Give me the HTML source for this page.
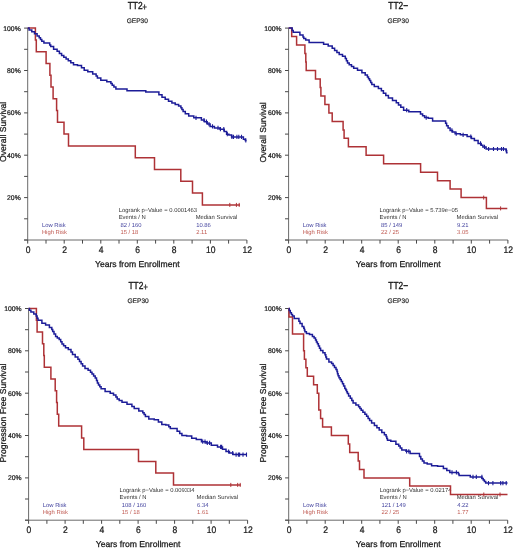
<!DOCTYPE html><html><head><meta charset="utf-8"><style>html,body{margin:0;padding:0;background:#fff;}svg{display:block;filter:blur(0.3px);}text{text-rendering:geometricPrecision;font-family:"Liberation Sans",sans-serif;}</style></head><body>
<svg width="520" height="556" viewBox="0 0 520 556">
<rect width="520" height="556" fill="#fff"/>
<g stroke="#6a6a6a" stroke-width="1" fill="none">
<path d="M 27.7 28.1 V 240.0 M 24.1 240.0 H 246.9"/>
<path d="M 27.7 240.0 V 243.6 M 46.0 240.0 V 243.6 M 64.2 240.0 V 243.6 M 82.5 240.0 V 243.6 M 100.8 240.0 V 243.6 M 119.0 240.0 V 243.6 M 137.3 240.0 V 243.6 M 155.6 240.0 V 243.6 M 173.8 240.0 V 243.6 M 192.1 240.0 V 243.6 M 210.4 240.0 V 243.6 M 228.6 240.0 V 243.6 M 246.9 240.0 V 243.6 M 24.1 28.1 H 27.7 M 24.1 49.3 H 27.7 M 24.1 70.5 H 27.7 M 24.1 91.7 H 27.7 M 24.1 112.9 H 27.7 M 24.1 134.1 H 27.7 M 24.1 155.2 H 27.7 M 24.1 176.4 H 27.7 M 24.1 197.6 H 27.7 M 24.1 218.8 H 27.7 M 24.1 240.0 H 27.7 " stroke="#484848"/>
</g>
<text x="20.7" y="30.5" font-size="6.8" fill="#1a1a1a" text-anchor="end" stroke="#1a1a1a" stroke-width="0.22">100%</text>
<text x="20.7" y="72.9" font-size="6.8" fill="#1a1a1a" text-anchor="end" stroke="#1a1a1a" stroke-width="0.22">80%</text>
<text x="20.7" y="115.3" font-size="6.8" fill="#1a1a1a" text-anchor="end" stroke="#1a1a1a" stroke-width="0.22">60%</text>
<text x="20.7" y="157.6" font-size="6.8" fill="#1a1a1a" text-anchor="end" stroke="#1a1a1a" stroke-width="0.22">40%</text>
<text x="20.7" y="200.0" font-size="6.8" fill="#1a1a1a" text-anchor="end" stroke="#1a1a1a" stroke-width="0.22">20%</text>
<text transform="translate(28.0 252.6) scale(1 1.12)" font-size="8.5" fill="#1a1a1a" text-anchor="middle" stroke="#1a1a1a" stroke-width="0.22">0</text>
<text transform="translate(64.5 252.6) scale(1 1.12)" font-size="8.5" fill="#1a1a1a" text-anchor="middle" stroke="#1a1a1a" stroke-width="0.22">2</text>
<text transform="translate(101.1 252.6) scale(1 1.12)" font-size="8.5" fill="#1a1a1a" text-anchor="middle" stroke="#1a1a1a" stroke-width="0.22">4</text>
<text transform="translate(137.6 252.6) scale(1 1.12)" font-size="8.5" fill="#1a1a1a" text-anchor="middle" stroke="#1a1a1a" stroke-width="0.22">6</text>
<text transform="translate(174.1 252.6) scale(1 1.12)" font-size="8.5" fill="#1a1a1a" text-anchor="middle" stroke="#1a1a1a" stroke-width="0.22">8</text>
<text transform="translate(210.7 252.6) scale(1 1.12)" font-size="8.5" fill="#1a1a1a" text-anchor="middle" stroke="#1a1a1a" stroke-width="0.22">10</text>
<text transform="translate(247.2 252.6) scale(1 1.12)" font-size="8.5" fill="#1a1a1a" text-anchor="middle" stroke="#1a1a1a" stroke-width="0.22">12</text>
<text x="137.3" y="267.2" font-size="8.6" fill="#1a1a1a" text-anchor="middle" stroke="#1a1a1a" stroke-width="0.26">Years from Enrollment</text>
<text transform="translate(5.6 131.8) rotate(-90)" font-size="8.6" fill="#1a1a1a" text-anchor="middle" stroke="#1a1a1a" stroke-width="0.26">Overall Survival</text>
<text transform="translate(137.3 8.9) scale(1 1.22)" font-size="8.4" fill="#1a1a1a" text-anchor="middle" stroke="#1a1a1a" stroke-width="0.30">TT2<tspan font-size="7.4" dy="0.6">+</tspan></text>
<text x="137.3" y="22.5" font-size="6.6" fill="#2e2e2e" text-anchor="middle" stroke="#2e2e2e" stroke-width="0.22">GEP30</text>
<text x="41.9" y="226.9" font-size="5.85" fill="#42429e" stroke="#42429e" stroke-width="0.00">Low Risk</text>
<text x="41.9" y="233.5" font-size="5.85" fill="#c05a52" stroke="#c05a52" stroke-width="0.00">High Risk</text>
<text x="118.7" y="212.0" font-size="5.85" fill="#303030" stroke="#303030" stroke-width="0.00">Logrank p−Value = 0.0001463</text>
<text x="118.7" y="219.0" font-size="5.85" fill="#303030" stroke="#303030" stroke-width="0.00">Events / N</text>
<text x="195.7" y="219.0" font-size="5.85" fill="#303030" stroke="#303030" stroke-width="0.00">Median Survival</text>
<text x="120.5" y="226.7" font-size="5.85" fill="#42429e" stroke="#42429e" stroke-width="0.00">82 / 160</text>
<text x="120.5" y="234.0" font-size="5.85" fill="#c05a52" stroke="#c05a52" stroke-width="0.00">15 / 18</text>
<text x="196.2" y="226.7" font-size="5.85" fill="#42429e" stroke="#42429e" stroke-width="0.00">10.86</text>
<text x="196.2" y="234.0" font-size="5.85" fill="#c05a52" stroke="#c05a52" stroke-width="0.00">2.11</text>
<path d="M 27.7 28.1 H 35.4 V 40.0 H 36.3 V 51.7 H 46.1 V 63.4 H 49.9 V 75.2 H 51.0 V 87.0 H 53.1 V 98.8 H 56.6 V 110.6 H 57.5 V 122.3 H 64.0 V 134.1 H 68.5 V 145.9 H 135.3 V 157.7 H 154.5 V 169.5 H 180.8 V 181.3 H 192.5 V 193.1 H 202.4 V 204.9 H 240.0" fill="none" stroke="#ae3236" stroke-width="1.5" stroke-linejoin="miter"/>
<path d="M 229.8 202.9 v 4.0 M 236.4 202.9 v 4.0 M 239.2 202.9 v 4.0 " stroke="#ae3236" stroke-width="1.0" fill="none"/>
<path d="M 27.7 28.1 H 29.1 V 29.9 H 31.8 V 31.8 H 33.1 H 34.5 V 33.8 H 37.1 V 35.9 H 38.5 H 39.2 V 37.7 H 40.5 V 39.5 H 41.8 V 41.3 H 42.5 H 43.9 V 43.0 H 45.2 H 49.2 H 49.7 V 45.0 H 50.7 V 46.6 H 51.2 H 53.6 V 49.3 H 56.0 H 57.1 V 51.3 H 59.4 V 53.4 H 61.6 V 55.4 H 62.7 H 63.8 V 57.2 H 66.1 V 59.0 H 68.3 V 60.8 H 69.4 H 70.8 V 62.8 H 73.5 V 64.8 H 74.8 H 77.5 V 65.5 H 80.2 H 81.5 V 67.8 H 84.2 V 70.2 H 85.6 H 87.8 V 71.8 H 90.0 H 92.7 V 73.9 H 95.4 H 96.1 V 75.9 H 97.4 V 77.9 H 98.1 H 100.8 V 80.3 H 103.5 H 106.8 V 81.7 H 110.2 H 110.9 V 83.5 H 112.2 V 85.3 H 112.9 H 113.9 V 87.1 H 115.9 V 88.9 H 116.9 H 126.3 H 127.0 V 90.7 H 127.7 H 145.2 H 145.8 V 92.0 H 146.5 H 157.4 H 158.9 V 94.7 H 162.0 V 97.2 H 163.5 H 165.2 V 99.2 H 168.5 V 101.3 H 170.2 H 171.9 V 102.9 H 175.2 V 104.4 H 176.9 H 178.6 V 106.0 H 180.3 H 180.9 V 107.8 H 181.9 V 109.6 H 183.1 V 111.4 H 183.6 H 185.3 V 113.8 H 188.7 V 116.1 H 190.4 H 193.8 V 117.8 H 197.1 H 200.0 H 201.4 V 120.0 H 204.4 V 121.7 H 205.8 H 207.2 V 124.1 H 210.1 V 126.4 H 211.5 H 214.4 V 127.9 H 217.3 H 220.0 V 129.2 H 222.7 H 224.2 V 131.6 H 225.8 H 226.6 V 134.2 H 227.3 H 228.9 V 135.0 H 230.4 H 231.6 V 136.9 H 232.7 H 242.7 H 243.4 V 139.2 H 244.2 H 245.3 V 140.4 H 246.5" fill="none" stroke="#1c1c98" stroke-width="1.5" stroke-linejoin="miter"/>
<path d="M 196.0 115.7 v 4.2 M 204.0 117.9 v 4.2 M 206.5 119.6 v 4.2 M 209.0 122.0 v 4.2 M 212.5 124.3 v 4.2 M 218.0 125.8 v 4.2 M 220.4 127.1 v 4.2 M 223.8 127.1 v 4.2 M 227.3 132.1 v 4.2 M 231.9 134.8 v 4.2 M 233.5 134.8 v 4.2 M 236.9 134.8 v 4.2 M 238.8 134.8 v 4.2 M 241.5 134.8 v 4.2 M 245.8 138.3 v 4.2 " stroke="#1c1c98" stroke-width="1.1" fill="none"/>
<g stroke="#6a6a6a" stroke-width="1" fill="none">
<path d="M 288.6 28.1 V 240.0 M 285.0 240.0 H 507.9"/>
<path d="M 288.6 240.0 V 243.6 M 306.9 240.0 V 243.6 M 325.2 240.0 V 243.6 M 343.4 240.0 V 243.6 M 361.7 240.0 V 243.6 M 380.0 240.0 V 243.6 M 398.2 240.0 V 243.6 M 416.5 240.0 V 243.6 M 434.8 240.0 V 243.6 M 453.1 240.0 V 243.6 M 471.3 240.0 V 243.6 M 489.6 240.0 V 243.6 M 507.9 240.0 V 243.6 M 285.0 28.1 H 288.6 M 285.0 49.3 H 288.6 M 285.0 70.5 H 288.6 M 285.0 91.7 H 288.6 M 285.0 112.9 H 288.6 M 285.0 134.1 H 288.6 M 285.0 155.2 H 288.6 M 285.0 176.4 H 288.6 M 285.0 197.6 H 288.6 M 285.0 218.8 H 288.6 M 285.0 240.0 H 288.6 " stroke="#484848"/>
</g>
<text x="281.6" y="30.5" font-size="6.8" fill="#1a1a1a" text-anchor="end" stroke="#1a1a1a" stroke-width="0.22">100%</text>
<text x="281.6" y="72.9" font-size="6.8" fill="#1a1a1a" text-anchor="end" stroke="#1a1a1a" stroke-width="0.22">80%</text>
<text x="281.6" y="115.3" font-size="6.8" fill="#1a1a1a" text-anchor="end" stroke="#1a1a1a" stroke-width="0.22">60%</text>
<text x="281.6" y="157.6" font-size="6.8" fill="#1a1a1a" text-anchor="end" stroke="#1a1a1a" stroke-width="0.22">40%</text>
<text x="281.6" y="200.0" font-size="6.8" fill="#1a1a1a" text-anchor="end" stroke="#1a1a1a" stroke-width="0.22">20%</text>
<text transform="translate(288.9 252.6) scale(1 1.12)" font-size="8.5" fill="#1a1a1a" text-anchor="middle" stroke="#1a1a1a" stroke-width="0.22">0</text>
<text transform="translate(325.5 252.6) scale(1 1.12)" font-size="8.5" fill="#1a1a1a" text-anchor="middle" stroke="#1a1a1a" stroke-width="0.22">2</text>
<text transform="translate(362.0 252.6) scale(1 1.12)" font-size="8.5" fill="#1a1a1a" text-anchor="middle" stroke="#1a1a1a" stroke-width="0.22">4</text>
<text transform="translate(398.6 252.6) scale(1 1.12)" font-size="8.5" fill="#1a1a1a" text-anchor="middle" stroke="#1a1a1a" stroke-width="0.22">6</text>
<text transform="translate(435.1 252.6) scale(1 1.12)" font-size="8.5" fill="#1a1a1a" text-anchor="middle" stroke="#1a1a1a" stroke-width="0.22">8</text>
<text transform="translate(471.6 252.6) scale(1 1.12)" font-size="8.5" fill="#1a1a1a" text-anchor="middle" stroke="#1a1a1a" stroke-width="0.22">10</text>
<text transform="translate(508.2 252.6) scale(1 1.12)" font-size="8.5" fill="#1a1a1a" text-anchor="middle" stroke="#1a1a1a" stroke-width="0.22">12</text>
<text x="398.2" y="267.2" font-size="8.6" fill="#1a1a1a" text-anchor="middle" stroke="#1a1a1a" stroke-width="0.26">Years from Enrollment</text>
<text transform="translate(266.1 132.3) rotate(-90)" font-size="8.6" fill="#1a1a1a" text-anchor="middle" stroke="#1a1a1a" stroke-width="0.26">Overall Survival</text>
<text transform="translate(398.2 8.9) scale(1 1.22)" font-size="8.4" fill="#1a1a1a" text-anchor="middle" stroke="#1a1a1a" stroke-width="0.30">TT2−</text>
<text x="398.2" y="22.5" font-size="6.6" fill="#2e2e2e" text-anchor="middle" stroke="#2e2e2e" stroke-width="0.22">GEP30</text>
<text x="302.8" y="226.9" font-size="5.85" fill="#42429e" stroke="#42429e" stroke-width="0.00">Low Risk</text>
<text x="302.8" y="233.5" font-size="5.85" fill="#c05a52" stroke="#c05a52" stroke-width="0.00">High Risk</text>
<text x="379.6" y="212.0" font-size="5.85" fill="#303030" stroke="#303030" stroke-width="0.00">Logrank p−Value = 5.739e−05</text>
<text x="379.6" y="219.0" font-size="5.85" fill="#303030" stroke="#303030" stroke-width="0.00">Events / N</text>
<text x="456.6" y="219.0" font-size="5.85" fill="#303030" stroke="#303030" stroke-width="0.00">Median Survival</text>
<text x="381.1" y="226.7" font-size="5.85" fill="#42429e" stroke="#42429e" stroke-width="0.00">85 / 149</text>
<text x="381.1" y="234.0" font-size="5.85" fill="#c05a52" stroke="#c05a52" stroke-width="0.00">22 / 25</text>
<text x="457.1" y="226.7" font-size="5.85" fill="#42429e" stroke="#42429e" stroke-width="0.00">9.21</text>
<text x="457.1" y="234.0" font-size="5.85" fill="#c05a52" stroke="#c05a52" stroke-width="0.00">3.05</text>
<path d="M 288.6 28.1 H 291.7 V 36.6 H 296.6 V 45.1 H 304.9 V 53.5 H 305.8 V 62.0 H 306.2 V 70.5 H 315.5 V 79.0 H 320.2 V 87.5 H 320.9 V 95.9 H 324.9 V 104.4 H 328.9 V 112.9 H 332.2 V 121.4 H 343.1 V 129.9 H 344.1 V 138.3 H 348.4 V 146.8 H 366.1 V 155.3 H 383.6 V 163.8 H 420.6 V 172.3 H 437.5 V 180.7 H 450.1 V 189.0 H 461.1 V 197.6 H 486.4 V 208.4 H 507.3" fill="none" stroke="#ae3236" stroke-width="1.5" stroke-linejoin="miter"/>
<path d="M 483.7 195.6 v 4.0 M 500.6 206.4 v 4.0 " stroke="#ae3236" stroke-width="1.0" fill="none"/>
<path d="M 288.6 28.1 H 291.6 H 292.2 V 30.4 H 293.2 V 32.3 H 293.8 H 299.1 H 299.9 V 35.1 H 300.6 H 302.6 H 303.0 V 36.9 H 303.8 V 38.6 H 304.2 H 305.7 V 40.1 H 307.2 H 309.1 V 42.5 H 311.0 H 321.9 H 323.6 V 44.2 H 325.4 H 328.2 V 46.0 H 331.1 H 332.2 V 48.3 H 334.6 V 50.6 H 335.7 H 336.9 V 52.6 H 339.2 V 54.6 H 340.4 H 342.5 V 56.2 H 344.7 H 345.3 V 58.4 H 346.4 V 60.7 H 347.5 V 62.9 H 348.1 H 349.2 V 64.7 H 351.5 V 66.5 H 353.7 V 68.3 H 354.8 H 357.5 V 70.3 H 360.2 H 361.9 V 72.7 H 365.2 V 75.0 H 366.9 H 367.4 V 76.9 H 368.5 V 78.8 H 369.6 V 80.6 H 370.7 V 82.5 H 371.8 V 84.4 H 372.3 H 374.3 V 86.5 H 378.4 V 88.5 H 380.4 H 381.4 V 90.8 H 383.4 V 93.2 H 384.4 H 385.8 V 95.6 H 388.4 V 97.9 H 389.8 H 392.5 V 100.6 H 395.2 H 396.3 V 102.8 H 398.5 V 105.1 H 400.8 V 107.3 H 401.9 H 403.6 V 110.2 H 405.4 H 408.8 V 111.8 H 412.1 H 419.5 H 420.5 V 114.0 H 422.6 V 115.8 H 424.6 V 117.6 H 425.6 H 428.3 V 118.3 H 431.0 H 432.6 V 121.0 H 434.3 H 445.1 H 445.6 V 123.3 H 446.6 V 125.7 H 447.1 H 448.1 V 128.1 H 450.1 V 130.4 H 451.1 H 452.5 V 132.1 H 455.1 V 133.7 H 456.5 H 460.4 V 134.8 H 464.2 H 467.1 V 136.5 H 470.0 H 471.4 V 138.6 H 474.4 V 140.6 H 475.8 H 478.1 V 143.4 H 480.4 H 481.2 V 145.2 H 482.9 V 146.9 H 483.8 H 486.1 V 149.0 H 488.4 H 505.7 H 506.0 V 150.8 H 506.6 V 152.7 H 506.9 H 507.6" fill="none" stroke="#1c1c98" stroke-width="1.5" stroke-linejoin="miter"/>
<path d="M 406.7 108.1 v 4.2 M 426.2 115.5 v 4.2 M 451.9 128.3 v 4.2 M 456.2 131.6 v 4.2 M 463.1 132.7 v 4.2 M 470.8 134.4 v 4.2 M 480.5 141.3 v 4.2 M 484.5 144.8 v 4.2 M 488.6 146.9 v 4.2 M 493.5 146.9 v 4.2 M 497.5 146.9 v 4.2 M 501.5 146.9 v 4.2 M 503.5 146.9 v 4.2 M 506.5 148.8 v 4.2 " stroke="#1c1c98" stroke-width="1.1" fill="none"/>
<g stroke="#6a6a6a" stroke-width="1" fill="none">
<path d="M 28.6 308.5 V 520.2 M 25.0 520.2 H 247.6"/>
<path d="M 28.6 520.2 V 523.8 M 46.9 520.2 V 523.8 M 65.1 520.2 V 523.8 M 83.3 520.2 V 523.8 M 101.6 520.2 V 523.8 M 119.8 520.2 V 523.8 M 138.1 520.2 V 523.8 M 156.3 520.2 V 523.8 M 174.6 520.2 V 523.8 M 192.8 520.2 V 523.8 M 211.1 520.2 V 523.8 M 229.3 520.2 V 523.8 M 247.6 520.2 V 523.8 M 25.0 308.5 H 28.6 M 25.0 329.7 H 28.6 M 25.0 350.8 H 28.6 M 25.0 372.0 H 28.6 M 25.0 393.2 H 28.6 M 25.0 414.4 H 28.6 M 25.0 435.5 H 28.6 M 25.0 456.7 H 28.6 M 25.0 477.9 H 28.6 M 25.0 499.0 H 28.6 M 25.0 520.2 H 28.6 " stroke="#484848"/>
</g>
<text x="21.6" y="310.9" font-size="6.8" fill="#1a1a1a" text-anchor="end" stroke="#1a1a1a" stroke-width="0.22">100%</text>
<text x="21.6" y="353.2" font-size="6.8" fill="#1a1a1a" text-anchor="end" stroke="#1a1a1a" stroke-width="0.22">80%</text>
<text x="21.6" y="395.6" font-size="6.8" fill="#1a1a1a" text-anchor="end" stroke="#1a1a1a" stroke-width="0.22">60%</text>
<text x="21.6" y="437.9" font-size="6.8" fill="#1a1a1a" text-anchor="end" stroke="#1a1a1a" stroke-width="0.22">40%</text>
<text x="21.6" y="480.3" font-size="6.8" fill="#1a1a1a" text-anchor="end" stroke="#1a1a1a" stroke-width="0.22">20%</text>
<text transform="translate(28.9 532.8) scale(1 1.12)" font-size="8.5" fill="#1a1a1a" text-anchor="middle" stroke="#1a1a1a" stroke-width="0.22">0</text>
<text transform="translate(65.4 532.8) scale(1 1.12)" font-size="8.5" fill="#1a1a1a" text-anchor="middle" stroke="#1a1a1a" stroke-width="0.22">2</text>
<text transform="translate(101.9 532.8) scale(1 1.12)" font-size="8.5" fill="#1a1a1a" text-anchor="middle" stroke="#1a1a1a" stroke-width="0.22">4</text>
<text transform="translate(138.4 532.8) scale(1 1.12)" font-size="8.5" fill="#1a1a1a" text-anchor="middle" stroke="#1a1a1a" stroke-width="0.22">6</text>
<text transform="translate(174.9 532.8) scale(1 1.12)" font-size="8.5" fill="#1a1a1a" text-anchor="middle" stroke="#1a1a1a" stroke-width="0.22">8</text>
<text transform="translate(211.4 532.8) scale(1 1.12)" font-size="8.5" fill="#1a1a1a" text-anchor="middle" stroke="#1a1a1a" stroke-width="0.22">10</text>
<text transform="translate(247.9 532.8) scale(1 1.12)" font-size="8.5" fill="#1a1a1a" text-anchor="middle" stroke="#1a1a1a" stroke-width="0.22">12</text>
<text x="138.1" y="547.4" font-size="8.6" fill="#1a1a1a" text-anchor="middle" stroke="#1a1a1a" stroke-width="0.26">Years from Enrollment</text>
<text transform="translate(5.7 413.1) rotate(-90)" font-size="8.6" fill="#1a1a1a" text-anchor="middle" stroke="#1a1a1a" stroke-width="0.26">Progression Free Survival</text>
<text transform="translate(138.1 289.3) scale(1 1.22)" font-size="8.4" fill="#1a1a1a" text-anchor="middle" stroke="#1a1a1a" stroke-width="0.30">TT2<tspan font-size="7.4" dy="0.6">+</tspan></text>
<text x="138.1" y="302.9" font-size="6.6" fill="#2e2e2e" text-anchor="middle" stroke="#2e2e2e" stroke-width="0.22">GEP30</text>
<text x="42.8" y="507.1" font-size="5.85" fill="#42429e" stroke="#42429e" stroke-width="0.00">Low Risk</text>
<text x="42.8" y="513.7" font-size="5.85" fill="#c05a52" stroke="#c05a52" stroke-width="0.00">High Risk</text>
<text x="119.6" y="492.2" font-size="5.85" fill="#303030" stroke="#303030" stroke-width="0.00">Logrank p−Value = 0.009334</text>
<text x="119.6" y="499.2" font-size="5.85" fill="#303030" stroke="#303030" stroke-width="0.00">Events / N</text>
<text x="196.6" y="499.2" font-size="5.85" fill="#303030" stroke="#303030" stroke-width="0.00">Median Survival</text>
<text x="121.8" y="506.9" font-size="5.85" fill="#42429e" stroke="#42429e" stroke-width="0.00">108 / 160</text>
<text x="121.8" y="514.2" font-size="5.85" fill="#c05a52" stroke="#c05a52" stroke-width="0.00">15 / 18</text>
<text x="197.1" y="506.9" font-size="5.85" fill="#42429e" stroke="#42429e" stroke-width="0.00">6.34</text>
<text x="197.1" y="514.2" font-size="5.85" fill="#c05a52" stroke="#c05a52" stroke-width="0.00">1.61</text>
<path d="M 28.6 308.5 H 36.4 V 320.3 H 37.1 V 332.0 H 42.5 V 343.8 H 43.8 V 355.5 H 44.3 V 367.3 H 50.9 V 379.1 H 55.2 V 390.8 H 56.6 V 402.6 H 57.3 V 414.3 H 58.7 V 426.1 H 81.6 V 437.9 H 83.8 V 449.6 H 138.5 V 461.4 H 155.8 V 473.1 H 173.5 V 484.9 H 240.8" fill="none" stroke="#ae3236" stroke-width="1.5" stroke-linejoin="miter"/>
<path d="M 230.8 482.9 v 4.0 M 237.7 482.9 v 4.0 M 240.2 482.9 v 4.0 " stroke="#ae3236" stroke-width="1.0" fill="none"/>
<path d="M 28.6 308.5 H 29.4 V 310.3 H 30.9 V 312.1 H 31.7 H 33.8 V 314.1 H 35.8 H 36.2 V 316.1 H 37.1 V 318.2 H 38.0 V 320.2 H 38.5 H 40.0 H 41.9 V 323.2 H 43.8 H 45.6 V 325.1 H 47.5 H 49.4 V 327.6 H 51.3 H 51.8 V 329.5 H 52.7 V 331.4 H 53.2 H 54.0 V 333.9 H 55.6 V 336.4 H 56.4 H 57.3 V 337.9 H 59.2 V 339.5 H 60.1 H 60.7 V 341.7 H 62.0 V 343.9 H 62.6 H 63.6 V 345.8 H 65.5 V 347.7 H 66.4 H 68.3 V 349.6 H 70.2 H 71.0 V 352.1 H 72.5 V 354.6 H 73.3 H 75.2 V 357.1 H 77.1 H 77.9 V 359.3 H 79.5 V 361.5 H 80.3 H 81.1 V 363.7 H 82.6 V 365.9 H 83.4 H 85.0 V 368.5 H 86.5 H 88.1 V 370.3 H 89.7 H 90.5 V 372.2 H 92.0 V 374.1 H 92.8 H 93.6 V 376.0 H 95.2 V 377.9 H 96.0 H 96.5 V 380.4 H 97.4 V 382.9 H 97.9 H 98.5 V 384.9 H 99.8 V 386.8 H 101.1 V 388.8 H 101.7 H 105.1 V 391.5 H 108.5 H 110.2 V 393.2 H 113.5 V 394.9 H 115.2 H 115.9 V 396.9 H 117.2 V 398.9 H 117.9 H 119.2 V 400.6 H 122.0 V 402.3 H 123.3 H 127.0 V 404.3 H 130.7 H 131.9 V 406.4 H 134.2 V 408.4 H 135.4 H 138.8 V 411.0 H 142.1 H 142.8 V 412.8 H 144.1 V 414.6 H 145.4 V 416.4 H 146.1 H 148.8 V 419.1 H 151.5 H 154.2 V 419.8 H 156.9 H 158.4 V 422.1 H 160.0 H 161.8 V 424.4 H 163.5 H 165.8 V 425.0 H 168.1 H 168.8 V 426.8 H 170.3 V 428.5 H 171.0 H 175.6 H 177.1 V 431.3 H 178.5 H 179.7 V 433.4 H 181.9 V 435.4 H 183.1 H 186.6 V 436.0 H 190.0 H 191.7 V 438.3 H 193.4 H 196.3 V 439.4 H 199.2 H 201.5 V 441.7 H 203.8 H 206.1 V 442.9 H 208.4 H 211.3 V 445.2 H 214.2 H 217.5 V 446.9 H 220.8 H 222.5 V 449.2 H 226.0 V 451.5 H 227.7 H 229.4 V 453.1 H 232.9 V 454.6 H 234.6 H 246.9" fill="none" stroke="#1c1c98" stroke-width="1.5" stroke-linejoin="miter"/>
<path d="M 202.7 439.6 v 4.2 M 205.0 439.6 v 4.2 M 207.3 440.8 v 4.2 M 209.6 440.8 v 4.2 M 220.6 444.8 v 4.2 M 221.7 444.8 v 4.2 M 228.6 449.4 v 4.2 M 232.7 450.9 v 4.2 M 236.1 452.5 v 4.2 M 238.4 452.5 v 4.2 M 239.6 452.5 v 4.2 M 243.0 452.5 v 4.2 M 246.5 452.5 v 4.2 " stroke="#1c1c98" stroke-width="1.1" fill="none"/>
<g stroke="#6a6a6a" stroke-width="1" fill="none">
<path d="M 288.7 308.5 V 520.2 M 285.1 520.2 H 507.7"/>
<path d="M 288.7 520.2 V 523.8 M 306.9 520.2 V 523.8 M 325.2 520.2 V 523.8 M 343.4 520.2 V 523.8 M 361.7 520.2 V 523.8 M 379.9 520.2 V 523.8 M 398.2 520.2 V 523.8 M 416.4 520.2 V 523.8 M 434.7 520.2 V 523.8 M 452.9 520.2 V 523.8 M 471.2 520.2 V 523.8 M 489.4 520.2 V 523.8 M 507.7 520.2 V 523.8 M 285.1 308.5 H 288.7 M 285.1 329.7 H 288.7 M 285.1 350.8 H 288.7 M 285.1 372.0 H 288.7 M 285.1 393.2 H 288.7 M 285.1 414.4 H 288.7 M 285.1 435.5 H 288.7 M 285.1 456.7 H 288.7 M 285.1 477.9 H 288.7 M 285.1 499.0 H 288.7 M 285.1 520.2 H 288.7 " stroke="#484848"/>
</g>
<text x="281.7" y="310.9" font-size="6.8" fill="#1a1a1a" text-anchor="end" stroke="#1a1a1a" stroke-width="0.22">100%</text>
<text x="281.7" y="353.2" font-size="6.8" fill="#1a1a1a" text-anchor="end" stroke="#1a1a1a" stroke-width="0.22">80%</text>
<text x="281.7" y="395.6" font-size="6.8" fill="#1a1a1a" text-anchor="end" stroke="#1a1a1a" stroke-width="0.22">60%</text>
<text x="281.7" y="437.9" font-size="6.8" fill="#1a1a1a" text-anchor="end" stroke="#1a1a1a" stroke-width="0.22">40%</text>
<text x="281.7" y="480.3" font-size="6.8" fill="#1a1a1a" text-anchor="end" stroke="#1a1a1a" stroke-width="0.22">20%</text>
<text transform="translate(289.0 532.8) scale(1 1.12)" font-size="8.5" fill="#1a1a1a" text-anchor="middle" stroke="#1a1a1a" stroke-width="0.22">0</text>
<text transform="translate(325.5 532.8) scale(1 1.12)" font-size="8.5" fill="#1a1a1a" text-anchor="middle" stroke="#1a1a1a" stroke-width="0.22">2</text>
<text transform="translate(362.0 532.8) scale(1 1.12)" font-size="8.5" fill="#1a1a1a" text-anchor="middle" stroke="#1a1a1a" stroke-width="0.22">4</text>
<text transform="translate(398.5 532.8) scale(1 1.12)" font-size="8.5" fill="#1a1a1a" text-anchor="middle" stroke="#1a1a1a" stroke-width="0.22">6</text>
<text transform="translate(435.0 532.8) scale(1 1.12)" font-size="8.5" fill="#1a1a1a" text-anchor="middle" stroke="#1a1a1a" stroke-width="0.22">8</text>
<text transform="translate(471.5 532.8) scale(1 1.12)" font-size="8.5" fill="#1a1a1a" text-anchor="middle" stroke="#1a1a1a" stroke-width="0.22">10</text>
<text transform="translate(508.0 532.8) scale(1 1.12)" font-size="8.5" fill="#1a1a1a" text-anchor="middle" stroke="#1a1a1a" stroke-width="0.22">12</text>
<text x="398.2" y="547.4" font-size="8.6" fill="#1a1a1a" text-anchor="middle" stroke="#1a1a1a" stroke-width="0.26">Years from Enrollment</text>
<text transform="translate(266.1 413.1) rotate(-90)" font-size="8.6" fill="#1a1a1a" text-anchor="middle" stroke="#1a1a1a" stroke-width="0.26">Progression Free Survival</text>
<text transform="translate(398.2 289.3) scale(1 1.22)" font-size="8.4" fill="#1a1a1a" text-anchor="middle" stroke="#1a1a1a" stroke-width="0.30">TT2−</text>
<text x="398.2" y="302.9" font-size="6.6" fill="#2e2e2e" text-anchor="middle" stroke="#2e2e2e" stroke-width="0.22">GEP30</text>
<text x="302.9" y="507.1" font-size="5.85" fill="#42429e" stroke="#42429e" stroke-width="0.00">Low Risk</text>
<text x="302.9" y="513.7" font-size="5.85" fill="#c05a52" stroke="#c05a52" stroke-width="0.00">High Risk</text>
<text x="379.7" y="492.2" font-size="5.85" fill="#303030" stroke="#303030" stroke-width="0.00">Logrank p−Value = 0.02174</text>
<text x="379.7" y="499.2" font-size="5.85" fill="#303030" stroke="#303030" stroke-width="0.00">Events / N</text>
<text x="456.7" y="499.2" font-size="5.85" fill="#303030" stroke="#303030" stroke-width="0.00">Median Survival</text>
<text x="381.5" y="506.9" font-size="5.85" fill="#42429e" stroke="#42429e" stroke-width="0.00">121 / 149</text>
<text x="381.5" y="514.2" font-size="5.85" fill="#c05a52" stroke="#c05a52" stroke-width="0.00">22 / 25</text>
<text x="457.2" y="506.9" font-size="5.85" fill="#42429e" stroke="#42429e" stroke-width="0.00">4.22</text>
<text x="457.2" y="514.2" font-size="5.85" fill="#c05a52" stroke="#c05a52" stroke-width="0.00">1.77</text>
<path d="M 288.7 308.5 H 289.0 V 317.0 H 292.5 V 325.4 V 334.0 H 303.6 V 342.4 V 350.8 H 304.4 V 359.3 H 305.9 V 367.8 H 307.3 V 376.3 H 313.6 V 384.7 H 317.3 V 393.2 H 318.8 V 401.7 V 410.1 H 320.6 V 418.6 H 322.6 V 427.1 H 331.4 V 435.5 H 348.3 V 444.0 H 349.7 V 452.5 H 358.2 V 461.0 H 359.5 V 469.4 H 364.0 V 477.9 H 409.7 V 486.0 H 450.5 V 494.5 H 507.5" fill="none" stroke="#ae3236" stroke-width="1.5" stroke-linejoin="miter"/>
<path d="M 483.8 492.5 v 4.0 M 500.0 492.5 v 4.0 " stroke="#ae3236" stroke-width="1.0" fill="none"/>
<path d="M 288.7 308.5 H 289.2 V 310.6 H 290.3 V 312.7 H 290.8 H 291.4 V 314.4 H 292.5 V 316.1 H 293.1 H 294.2 V 318.5 H 295.4 H 298.3 H 298.9 V 321.3 H 300.0 V 323.6 H 300.6 H 302.1 V 326.5 H 303.5 H 303.8 V 328.2 H 304.4 V 330.0 H 304.9 V 331.7 H 305.2 H 306.4 V 333.4 H 307.5 H 309.5 V 334.6 H 311.5 H 312.4 V 336.4 H 314.1 V 338.1 H 315.0 H 315.5 V 340.0 H 316.4 V 341.9 H 317.4 V 343.8 H 317.9 H 318.4 V 346.0 H 319.5 V 348.2 H 320.6 V 350.4 H 321.1 H 322.9 V 352.7 H 324.6 H 325.0 V 354.8 H 325.8 V 356.9 H 326.5 V 359.0 H 326.9 H 328.9 V 361.9 H 330.9 H 331.6 V 363.6 H 333.1 V 365.4 H 333.8 H 334.5 V 367.4 H 336.0 V 369.4 H 336.7 H 337.0 V 371.5 H 337.5 V 373.7 H 338.1 V 375.8 H 338.4 H 339.0 V 377.7 H 340.1 V 379.6 H 341.3 V 381.5 H 341.9 H 342.5 V 383.8 H 343.6 V 386.1 H 344.8 V 388.4 H 345.4 H 345.8 V 390.1 H 346.6 V 391.8 H 347.4 V 393.5 H 347.8 H 348.6 V 395.9 H 350.3 V 398.2 H 351.1 H 351.8 V 400.5 H 353.1 V 402.9 H 353.8 H 355.9 V 404.9 H 357.9 H 358.6 V 406.7 H 359.9 V 408.5 H 361.2 V 410.3 H 361.9 H 362.9 V 412.3 H 364.9 V 414.3 H 365.9 H 366.6 V 416.3 H 368.1 V 418.4 H 369.6 V 420.4 H 370.3 H 371.6 V 422.9 H 374.4 V 425.4 H 375.7 H 376.9 V 427.8 H 379.2 V 430.1 H 380.4 H 381.8 V 432.5 H 384.4 V 434.8 H 385.8 H 386.1 V 436.6 H 386.8 V 438.4 H 387.5 V 440.2 H 387.8 H 390.8 V 441.3 H 393.8 H 395.9 V 444.2 H 397.9 H 398.7 V 446.1 H 400.2 V 448.0 H 401.8 V 449.9 H 402.6 H 406.0 V 451.3 H 409.4 H 410.1 V 453.6 H 410.8 H 418.8 H 419.5 V 456.5 H 420.8 V 458.9 H 421.5 H 422.4 V 460.9 H 424.0 V 463.0 H 424.9 H 427.2 V 463.9 H 429.6 H 431.6 V 465.7 H 433.6 H 437.6 V 466.3 H 441.7 H 443.4 V 468.4 H 446.8 V 470.4 H 448.5 H 449.8 V 472.4 H 451.1 H 458.1 H 458.4 V 474.1 H 459.1 V 475.6 H 459.4 H 470.0 H 470.3 V 476.9 H 470.6 H 481.3 H 481.9 V 478.4 H 483.2 V 480.0 H 483.8 H 484.4 V 481.6 H 485.7 V 483.1 H 486.3 H 507.5" fill="none" stroke="#1c1c98" stroke-width="1.5" stroke-linejoin="miter"/>
<path d="M 406.6 449.2 v 4.2 M 408.8 449.2 v 4.2 M 452.0 470.3 v 4.2 M 456.4 470.3 v 4.2 M 473.0 474.8 v 4.2 M 476.3 474.8 v 4.2 M 481.9 474.8 v 4.2 M 488.5 481.0 v 4.2 M 492.9 481.0 v 4.2 M 500.7 481.0 v 4.2 M 502.9 481.0 v 4.2 M 506.2 481.0 v 4.2 " stroke="#1c1c98" stroke-width="1.1" fill="none"/>
</svg></body></html>
